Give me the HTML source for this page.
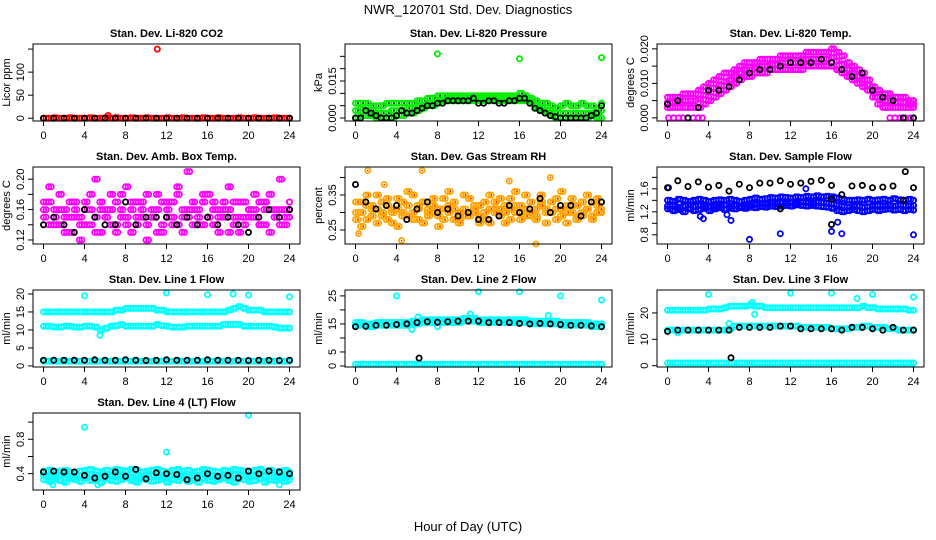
<!DOCTYPE html>
<html><head><meta charset="utf-8"><style>
body{margin:0;background:#fff;}
svg{display:block;font-family:"Liberation Sans",sans-serif;}
</style></head><body>
<svg id="chart" width="936" height="540" viewBox="0 0 936 540">
<rect width="936" height="540" fill="#fff"/>
<text x="468" y="14" text-anchor="middle" font-size="13">NWR_120701  Std. Dev. Diagnostics</text>
<text x="468" y="531" text-anchor="middle" font-size="13">Hour of Day (UTC)</text>
</svg>
<script>
const xTicks=[0,4,8,12,16,20,24];
// Panel 1 CO2
const co2Red=[0,0,1,0,0,1,0,0,0,1,0,0,1,0,1,0,0,1,0,0,1,0,0,0,1,0,0,1,0,0,0,1,0,0,1,0,0,0,1,0,0,1,0,0,0,1,0,0,0];
const co2Black=[0,0,0,0,0,0,0,0,0,0,0,0,0,0,0,0,0,0,0,0,0,0,0,0,0];
const co2OutHrs=[11.1,6.3];const co2OutVals=[150,6];
// Panel 2 Pressure
const presHi=[0.006,0.006,0.006,0.005,0.005,0.005,0.006,0.006,0.006,0.006,0.006,0.006,0.007,0.007,0.008,0.008,0.009,0.009,0.009,0.009,0.009,0.009,0.009,0.009,0.009,0.009,0.009,0.009,0.009,0.009,0.009,0.009,0.010,0.009,0.008,0.007,0.006,0.006,0.005,0.004,0.005,0.006,0.005,0.005,0.006,0.005,0.005,0.004,0.006];
const presMid=[0.003,0.004,0.003,0.003,0.002,0.002,0.002,0.003,0.003,0.003,0.004,0.004,0.005,0.005,0.006,0.006,0.007,0.007,0.008,0.008,0.008,0.008,0.008,0.008,0.008,0.008,0.008,0.008,0.008,0.008,0.008,0.008,0.008,0.008,0.007,0.005,0.004,0.003,0.002,0.002,0.002,0.002,0.002,0.002,0.002,0.002,0.002,0.002,0.003];
const presLo=[0,0.001,0.001,0.001,0,0,0,0,0.001,0.001,0.002,0.002,0.003,0.004,0.005,0.005,0.006,0.007,0.007,0.007,0.007,0.007,0.007,0.007,0.007,0.007,0.007,0.007,0.007,0.007,0.007,0.007,0.007,0.007,0.006,0.004,0.003,0.002,0.001,0,0,0,0,0,0,0,0.001,0,0];
const presOutHrs=[8,16,24];const presOutVals=[0.026,0.024,0.0245];
const presBlack=[0,0,0.003,0.002,0.001,0,0,0,0.001,0.003,0.002,0.002,0.003,0.004,0.005,0.005,0.006,0.006,0.007,0.007,0.007,0.007,0.007,0.008,0.006,0.006,0.007,0.007,0.006,0.006,0.007,0.007,0.008,0.008,0.006,0.004,0.003,0.002,0.001,0.0005,0,0,0,0,0,0,0.001,0.002,0.005];
// Panel 3 Temp
const tempHi=[0.006,0.006,0.006,0.007,0.007,0.007,0.008,0.009,0.010,0.011,0.012,0.013,0.013,0.014,0.015,0.016,0.016,0.016,0.017,0.017,0.017,0.017,0.018,0.018,0.018,0.018,0.018,0.019,0.019,0.019,0.019,0.019,0.020,0.019,0.018,0.016,0.015,0.014,0.013,0.011,0.009,0.008,0.007,0.007,0.006,0.006,0.006,0.005,0.005];
const tempMid=[0.0045,0.0045,0.0045,0.005,0.005,0.005,0.0055,0.0065,0.0075,0.0085,0.0095,0.0105,0.011,0.012,0.013,0.014,0.014,0.0145,0.015,0.015,0.0155,0.0155,0.016,0.016,0.016,0.016,0.016,0.017,0.017,0.017,0.017,0.017,0.0175,0.0165,0.0155,0.014,0.013,0.012,0.011,0.0095,0.0075,0.006,0.005,0.005,0.0045,0.0045,0.0045,0.004,0.004];
const tempLo=[0.003,0.003,0.003,0.003,0.003,0.003,0.003,0.004,0.005,0.006,0.007,0.008,0.009,0.010,0.011,0.012,0.012,0.013,0.013,0.013,0.014,0.014,0.014,0.014,0.014,0.014,0.014,0.015,0.015,0.015,0.015,0.015,0.015,0.014,0.013,0.012,0.011,0.010,0.009,0.008,0.006,0.004,0.003,0.003,0.003,0.003,0.003,0.003,0.003];
const tempZeroHrs=[0.1,0.6,1.1,1.5,2,2.5,3,3.4,21.7,22.2,22.7,23.2,23.7];
const tempZeroVals=[0,0,0,0,0,0,0,0,0,0,0,0,0];
const tempBlack=[0.004,0.005,0,0.003,0.008,0.008,0.009,0.011,0.013,0.014,0.014,0.015,0.016,0.016,0.016,0.017,0.016,0.014,0.012,0.013,0.008,0.006,0.005,0,0];
// Panel 4 Amb box
const ambA=[.17,.19,.15,.16,.13,.17,.15,.12,.17,.14,.20,.16,.15,.18,.14,.16,.19,.13,.17,.15,.12,.16,.18,.14,.17,.15,.19,.13,.21,.16,.14,.18,.15,.17,.13,.16,.19,.14,.17,.15,.16,.18,.14,.17,.13,.16,.20,.15,.17];
const ambB=[.15,.14,.16,.14,.15,.13,.16,.15,.14,.16,.15,.13,.16,.14,.17,.15,.14,.16,.15,.17,.14,.15,.16,.13,.15,.17,.14,.16,.15,.14,.16,.17,.15,.14,.16,.15,.13,.17,.15,.14,.16,.15,.17,.14,.16,.15,.14,.16,.15];
const ambC=[.16,.17,.14,.18,.16,.15,.17,.14,.16,.18,.13,.17,.15,.16,.13,.18,.15,.17,.14,.16,.18,.15,.13,.17,.16,.14,.18,.15,.16,.17,.15,.14,.18,.16,.15,.17,.16,.15,.13,.17,.15,.16,.14,.16,.18,.15,.16,.14,.16];
const ambBlack=[.14,.15,.14,.13,.16,.15,.14,.14,.17,.14,.15,.15,.15,.14,.15,.14,.15,.14,.15,.14,.13,.15,.16,.15,.16];
// Panel 5 Gas RH
const rhA=[.30,.33,.28,.31,.35,.29,.32,.27,.34,.30,.36,.28,.31,.33,.29,.32,.26,.34,.30,.31,.28,.35,.30,.32,.29,.33,.27,.31,.34,.30,.28,.32,.30,.35,.29,.31,.33,.27,.30,.34,.29,.32,.30,.28,.33,.31,.29,.34,.30];
const rhB=[.28,.30,.32,.29,.31,.33,.28,.30,.31,.29,.32,.30,.28,.33,.31,.30,.29,.31,.32,.28,.30,.31,.29,.30,.32,.28,.31,.30,.29,.32,.31,.30,.28,.31,.30,.29,.32,.31,.30,.28,.31,.30,.32,.29,.30,.31,.28,.32,.30];
const rhC=[.33,.26,.35,.32,.27,.30,.34,.31,.26,.33,.29,.35,.32,.27,.30,.34,.31,.28,.36,.33,.27,.29,.34,.31,.27,.30,.35,.33,.31,.27,.34,.36,.32,.29,.33,.28,.35,.30,.33,.31,.36,.27,.34,.32,.29,.35,.33,.30,.31];
const rhOutHrs=[1.2,6.5,0.3,4.5,17.6,19,2.8,15];const rhOutVals=[.42,.42,.24,.22,.21,.40,.38,.39];
const rhBlack=[.38,.33,.31,.32,.32,.28,.31,.33,.30,.31,.29,.30,.28,.28,.29,.32,.30,.31,.34,.30,.32,.32,.29,.33,.33];
// Panel 6 Sample flow
const sfA=[1.40,1.38,1.42,1.40,1.38,1.40,1.42,1.40,1.38,1.40,1.41,1.40,1.42,1.40,1.38,1.40,1.42,1.44,1.42,1.43,1.45,1.44,1.46,1.45,1.44,1.46,1.45,1.47,1.46,1.48,1.46,1.47,1.46,1.44,1.42,1.40,1.40,1.41,1.40,1.42,1.40,1.41,1.42,1.40,1.43,1.41,1.40,1.42,1.40];
const sfB=[1.30,1.32,1.28,1.30,1.32,1.29,1.31,1.30,1.28,1.30,1.31,1.32,1.30,1.31,1.29,1.30,1.32,1.33,1.34,1.33,1.35,1.34,1.36,1.35,1.36,1.35,1.37,1.36,1.35,1.37,1.36,1.35,1.34,1.32,1.30,1.28,1.29,1.30,1.28,1.29,1.30,1.31,1.30,1.31,1.30,1.32,1.31,1.30,1.31];
const sfC=[1.25,1.22,1.24,1.20,1.25,1.22,1.24,1.26,1.22,1.25,1.27,1.24,1.26,1.25,1.27,1.26,1.28,1.27,1.29,1.28,1.30,1.29,1.30,1.31,1.30,1.32,1.31,1.30,1.31,1.30,1.29,1.28,1.26,1.22,1.20,1.22,1.24,1.22,1.20,1.22,1.24,1.22,1.24,1.25,1.23,1.24,1.22,1.24,1.23];
const sfOutHrs=[0.1,3.5,8,11,16,16.6,17,24,6.2,3.2,5.8,13.5];const sfOutVals=[1.62,1.08,0.72,0.82,0.86,1.02,0.82,0.80,1.05,1.12,1.15,1.60];
const sfBlack=[1.62,1.74,1.64,1.72,1.63,1.66,1.56,1.68,1.62,1.70,1.70,1.74,1.68,1.70,1.73,1.75,1.66,1.50,1.65,1.66,1.62,1.63,1.65,1.40,1.62];
const sfBlackOutHrs=[11,16,16,23.2];const sfBlackOutVals=[1.25,0.98,1.42,1.90];
// Panel 7 Line 1
const l1A=[15,15,15,15,15,15,15,15,15,15,15,15,15,15,15.5,15.5,16,16,16,16,16,16,15.5,15.5,15,15,15,15,15,15,15,15,15,15,15,15,15.5,16,16.5,16,15.5,15.5,15.5,15,15,15,15,15,15];
const l1B=[11,11,10.8,10.8,11,11,10.8,10.8,11,11,10.8,10,10.5,11,11.2,11.5,11,11,11,11,11,11,11.5,11.2,11,10.8,10.8,10.8,11,11,11,11,11,11,11,11.5,11.5,11.5,11.5,11,11,11,11,11,11,10.8,10.5,10.5,10.5];
const l1C=[1.3,1.3,1.3,1.3,1.3,1.3,1.3,1.3,1.3,1.3,1.3,1.3,1.3,1.3,1.3,1.3,1.3,1.3,1.3,1.3,1.3,1.3,1.3,1.3,1.3,1.3,1.3,1.3,1.3,1.3,1.3,1.3,1.3,1.3,1.3,1.3,1.3,1.3,1.3,1.3,1.3,1.3,1.3,1.3,1.3,1.3,1.3,1.3,1.3];
const l1OutHrs=[4,12,16,18.5,20,24,5.5];const l1OutVals=[19.5,20.3,19.8,20,19.7,19.2,8.5];
const l1Black=[1.6,1.6,1.6,1.6,1.6,1.7,1.6,1.6,1.7,1.6,1.5,1.6,1.7,1.6,1.6,1.6,1.7,1.6,1.6,1.6,1.5,1.6,1.6,1.5,1.6];
// Panel 8 Line 2
const l2A=[15.5,15.5,15,15,15.5,15.5,15.5,15.5,15.5,15.5,15.5,16,16,16.5,16.5,16.5,16.5,16.5,16.5,16.5,16.5,17,17,17,16.5,16.5,16.5,16.5,16.5,16.5,16.5,16.5,16.5,16.5,16,16,16,16,16,16,15.5,15.5,15.5,15.5,15.5,15.5,15,15,15];
const l2B=[0.6,0.6,0.6,0.6,0.6,0.6,0.6,0.6,0.6,0.6,0.6,0.6,0.6,0.6,0.6,0.6,0.6,0.6,0.6,0.6,0.6,0.6,0.6,0.6,0.6,0.6,0.6,0.6,0.6,0.6,0.6,0.6,0.6,0.6,0.6,0.6,0.6,0.6,0.6,0.6,0.6,0.6,0.6,0.6,0.6,0.6,0.6,0.6,0.6];
const l2OutHrs=[4,12,16,20,24,6.1,5.5,8,11.2,18.8];const l2OutVals=[25,26.5,26.5,25,23.5,17.5,13,14,18.5,18];
const l2Black=[14,14.2,14.5,14.5,14.8,15,15.5,15.8,15.6,15.8,16,16,16,15.5,15.5,15.5,15.2,15,15.2,15,14.8,14.5,14.5,14.3,14];
const l2BlackOutHrs=[6.2];const l2BlackOutVals=[2.8];
// Panel 9 Line 3
const l3A=[21,21,21,21,21,21,21,21,21.5,21.5,21.5,22,22.5,22.5,22.5,22.5,23,22.5,22.5,22,22,22,22,22,22,22,22,22,22,22,22,22,22,22,22,22,22,22,22.5,22,22,21.5,21.5,21.5,21.5,21.5,21.5,21,21];
const l3B=[13.5,13.5,13.5,13.5,13.5,13.5,13.5,13.5,13.5,13.5,13.5,13.5,14,15,15,15,15,15,15,15,15,15,15,15,15,15,14.5,14.5,14.5,14.5,14.5,14.5,14,14,14,14,14.5,14.5,15,15,14.5,14.5,14.5,14,14,13.5,13.5,13.5,13.5];
const l3C=[1,1,1,1,1,1,1,1,1,1,1,1,1,1,1,1,1,1,1,1,1,1,1,1,1,1,1,1,1,1,1,1,1,1,1,1,1,1,1,1,1,1,1,1,1,1,1,1,1];
const l3OutHrs=[4,12,16,18.5,20,24,8.3,8.5,6,1];const l3OutVals=[27,27.5,27.5,25.5,27,26,24,19.5,16,12.5];
const l3Black=[13,13.5,13.5,13.5,13.5,13.5,13.5,14.5,14.5,14.5,14.5,15,15,14,14,14,14,13.5,14.5,14.5,14,13.5,14.5,13.5,13.5];
const l3BlackOutHrs=[6.2];const l3BlackOutVals=[3];
// Panel 10 Line 4
const l4A=[.43,.44,.42,.43,.44,.42,.41,.43,.44,.45,.43,.42,.44,.43,.45,.44,.43,.45,.44,.42,.43,.44,.45,.43,.42,.44,.45,.43,.44,.42,.43,.45,.44,.43,.42,.44,.43,.45,.44,.43,.42,.44,.45,.43,.44,.42,.43,.44,.42];
const l4B=[.38,.37,.36,.38,.39,.37,.36,.38,.37,.39,.38,.36,.37,.38,.39,.37,.38,.36,.38,.37,.39,.38,.37,.36,.38,.39,.37,.38,.36,.37,.38,.39,.37,.38,.36,.38,.37,.39,.38,.37,.36,.38,.39,.37,.38,.36,.37,.38,.37];
const l4C=[.33,.31,.34,.32,.30,.34,.33,.31,.35,.32,.33,.30,.34,.32,.31,.33,.35,.32,.30,.34,.33,.31,.32,.34,.30,.33,.32,.35,.31,.33,.30,.34,.32,.31,.33,.35,.32,.30,.34,.33,.31,.32,.34,.30,.33,.32,.35,.31,.33];
const l4OutHrs=[4,12,20,0.9,5.3,23];const l4OutVals=[0.94,0.65,1.08,0.27,0.27,0.27];
const l4Black=[.42,.43,.42,.42,.38,.35,.37,.42,.37,.45,.34,.41,.40,.39,.33,.35,.40,.37,.38,.35,.43,.40,.43,.42,.40];

const NS="http://www.w3.org/2000/svg";
const svg=document.getElementById('chart');
const colL=[33,345,657],rowT=[44,167,290,413],PW=267,PH=77;
function mk(tag,attrs,parent){const e=document.createElementNS(NS,tag);for(const k in attrs)e.setAttribute(k,attrs[k]);parent.appendChild(e);return e;}
function even(vals,off){return vals.map((v,i)=>Math.min(24,24*i/(vals.length-1)+(off||0)));}
function panel(id,col,row,title,ylab,ymin,ymax,ticks,labels,series){
  const L=colL[col],T=rowT[row];
  const g=mk('g',{},svg);
  
  
  const xs=h=>L+10.5+h/24*(PW-21);
  const ys=v=>T+PH-(v-ymin)/(ymax-ymin)*PH;
  const t=mk('text',{x:L+PW/2,y:T-7,'text-anchor':'middle','font-size':'11','font-weight':'bold'},g);
  t.textContent=title;
  
  
  const pg=mk('g',{fill:'none','stroke-width':'1.8'},g);
  
  
  const draw=(s,hrs)=>{
    s.v.forEach((v,i)=>{
      const c=mk('circle',{cx:xs(hrs[i]).toFixed(1),cy:ys(v).toFixed(1),r:'2.6',stroke:s.c},pg);
      
      
      if(s.d){const d=mk('circle',{cx:xs(hrs[i]).toFixed(1),cy:ys(v).toFixed(1),r:'0.8',fill:s.d,stroke:'none'},pg);
        
        }
    });
  };
  series.forEach(s=>{
    if(s.h){draw(s,s.h);return;}
    draw(s,even(s.v,0));
    if(s.dense){draw(s,even(s.v,0.25));}
  });
  const box=mk('rect',{x:L,y:T,width:PW,height:PH,fill:'none',stroke:'#000','stroke-width':'1'},g);
  
  
  const xa=mk('g',{stroke:'#000'},g);
  
  
  mk('line',{x1:xs(0),x2:xs(24),y1:T+PH,y2:T+PH},xa);
  xTicks.forEach(h=>{
    mk('line',{x1:xs(h),x2:xs(h),y1:T+PH,y2:T+PH+5},xa);
    const tx=mk('text',{x:xs(h),y:T+PH+18,'text-anchor':'middle','font-size':'11',stroke:'none'},xa);
    tx.textContent=h;
    
    
  });
  const ya=mk('g',{stroke:'#000'},g);
  
  
  mk('line',{x1:L,x2:L,y1:ys(ticks[0]),y2:ys(ticks[ticks.length-1])},ya);
  ticks.forEach((tv,i)=>{
    const y=ys(tv);
    mk('line',{x1:L-5,x2:L,y1:y,y2:y},ya);
    if(labels[i]){
      const ty=mk('text',{x:L-9,y:y,transform:`rotate(-90 ${L-9} ${y})`,'text-anchor':'middle','font-size':'11',stroke:'none'},ya);
      ty.textContent=labels[i];
      
      
    }
  });
  const yl=mk('text',{x:L-23,y:T+PH/2,transform:`rotate(-90 ${L-23} ${T+PH/2})`,'text-anchor':'middle','font-size':'11'},g);
  yl.textContent=ylab;
  
  
}
panel('co2',0,0,'Stan. Dev. Li-820 CO2','Licor ppm',-6,161,[0,50,100,150],['0','50','100',''],[
  {c:'#ff0000',v:co2Red,d:'#000',dense:1},{c:'#ff0000',h:co2OutHrs,v:co2OutVals},{c:'#000',v:co2Black,d:'#ff0000'}]);
panel('pressure',1,0,'Stan. Dev. Li-820 Pressure','kPa',-0.0012,0.030,[0,0.005,0.010,0.015,0.020,0.025],['0.000','','','0.015','',''],[
  {c:'#00ee00',v:presHi,d:'#000',dense:1},{c:'#00ee00',v:presMid,d:'#000',dense:1},{c:'#00ee00',v:presLo,d:'#000',dense:1},{c:'#00ee00',h:presOutHrs,v:presOutVals},{c:'#000',v:presBlack}]);
panel('temp',2,0,'Stan. Dev. Li-820 Temp.','degrees C',-0.0009,0.0214,[0,0.005,0.010,0.015,0.020],['0.000','','0.010','','0.020'],[
  {c:'#ff00ff',v:tempHi,dense:1},{c:'#ff00ff',v:tempMid,dense:1},{c:'#ff00ff',v:tempLo,dense:1},{c:'#ff00ff',h:tempZeroHrs,v:tempZeroVals},{c:'#000',v:tempBlack}]);
panel('amb-box',0,1,'Stan. Dev. Amb. Box Temp.','degrees C',0.1147,0.216,[0.12,0.14,0.16,0.18,0.20],['0.12','','0.16','','0.20'],[
  {c:'#ff00ff',v:ambA,dense:1},{c:'#ff00ff',v:ambB,dense:1},{c:'#ff00ff',v:ambC,dense:1},{c:'#000',v:ambBlack}]);
panel('gas-rh',1,1,'Stan. Dev. Gas Stream RH','percent',0.21,0.43,[0.25,0.30,0.35,0.40],['0.25','','0.35',''],[
  {c:'#ffa500',v:rhA,d:'#ff0000',dense:1},{c:'#ffa500',v:rhB,d:'#ff0000',dense:1},{c:'#ffa500',v:rhC,d:'#ff0000',dense:1},{c:'#ffa500',h:rhOutHrs,v:rhOutVals,d:'#ff0000'},{c:'#000',v:rhBlack}]);
panel('sample-flow',2,1,'Stan. Dev. Sample Flow','ml/min',0.64,1.98,[0.8,1.0,1.2,1.4,1.6,1.8],['0.8','','1.2','','1.6',''],[
  {c:'#0000ff',v:sfA,dense:1},{c:'#0000ff',v:sfB,dense:1},{c:'#0000ff',v:sfC,dense:1},{c:'#0000ff',h:sfOutHrs,v:sfOutVals},{c:'#000',v:sfBlack},{c:'#000',h:sfBlackOutHrs,v:sfBlackOutVals}]);
panel('line1',0,2,'Stan. Dev. Line 1 Flow','ml/min',-0.3,21.1,[0,5,10,15,20],['0','5','10','15','20'],[
  {c:'#00ffff',v:l1A,dense:1},{c:'#00ffff',v:l1B,dense:1},{c:'#00ffff',v:l1C,dense:1},{c:'#00ffff',h:l1OutHrs,v:l1OutVals},{c:'#000',v:l1Black}]);
panel('line2',1,2,'Stan. Dev. Line 2 Flow','ml/min',-0.36,27.1,[0,5,10,15,20,25],['0','5','','15','','25'],[
  {c:'#00ffff',v:l2A,dense:1},{c:'#00ffff',v:l2A.map(v=>v-1),dense:1},{c:'#00ffff',v:l2B,dense:1},{c:'#00ffff',h:l2OutHrs,v:l2OutVals},{c:'#000',v:l2Black},{c:'#000',h:l2BlackOutHrs,v:l2BlackOutVals}]);
panel('line3',2,2,'Stan. Dev. Line 3 Flow','ml/min',-0.5,28.7,[0,10,20],['0','10','20'],[
  {c:'#00ffff',v:l3A,dense:1},{c:'#00ffff',v:l3B,dense:1},{c:'#00ffff',v:l3C,dense:1},{c:'#00ffff',h:l3OutHrs,v:l3OutVals},{c:'#000',v:l3Black},{c:'#000',h:l3BlackOutHrs,v:l3BlackOutVals}]);
panel('line4',0,3,'Stan. Dev. Line 4 (LT) Flow','ml/min',0.21,1.106,[0.4,0.6,0.8,1.0],['0.4','','0.8',''],[
  {c:'#00ffff',v:l4A,dense:1},{c:'#00ffff',v:l4B,dense:1},{c:'#00ffff',v:l4C,dense:1},{c:'#00ffff',h:l4OutHrs,v:l4OutVals},{c:'#000',v:l4Black}]);
</script>
</body></html>
